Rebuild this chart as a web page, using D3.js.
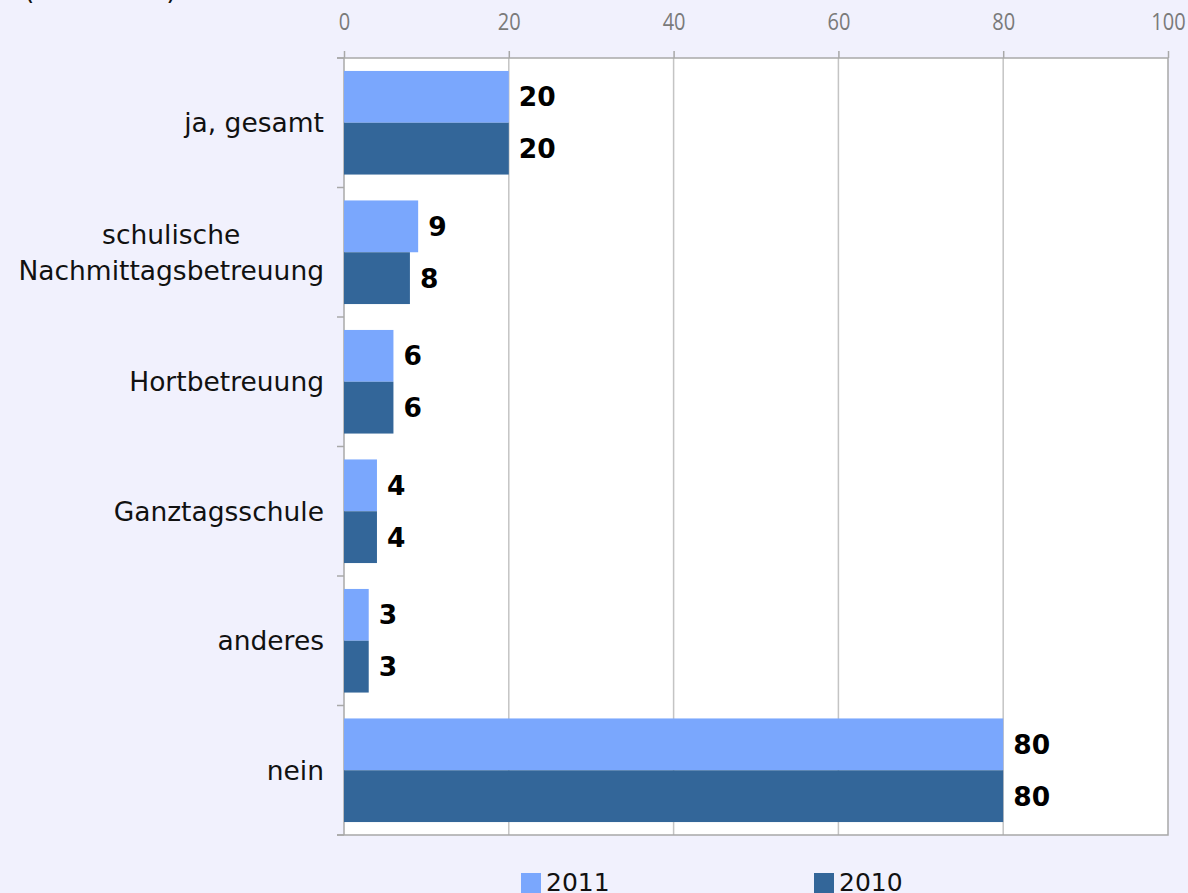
<!DOCTYPE html>
<html lang="de">
  <head>
    <meta charset="UTF-8"/>
    <title>Nachmittagsbetreuung</title>
    <script src="https://d3js.org/d3.v7.min.js"></script>
    <style>
        body {
          margin: 0;
          background: #f1f1fd;
        }
        .cat {
          font: 26.5px "DejaVu Sans", Verdana, sans-serif;
          fill: #111;
        }
        .val {
          font: bold 26.5px "DejaVu Sans", Verdana, sans-serif;
          fill: #000;
        }
        .tick-label {
          font: 23px "Open Sans", sans-serif;
          fill: #7a7a7a;
        }
        .legend {
          font: 25px "DejaVu Sans", Verdana, sans-serif;
          fill: #111;
        }
    </style>
  </head>
  <body>
    <script>
        const categories = [
          ["ja, gesamt"],
          ["schulische", "Nachmittagsbetreuung"],
          ["Hortbetreuung"],
          ["Ganztagsschule"],
          ["anderes"],
          ["nein"]
        ]
        const years = ["2011", "2010"]
        const values2011 = [20, 9, 6, 4, 3, 80]
        const values2010 = [20, 8, 6, 4, 3, 80]
        const xTicks = [0, 20, 40, 60, 80, 100]
        const colors = {"2011": "#7aa7fd", "2010": "#336699"}

        const width = 1188, height = 893
        const plot = {left: 344, right: 1168, top: 58, bottom: 835}

        const rows = categories.map((c, i) => ({
          key: c.join(" "),
          lines: c,
          "2011": values2011[i],
          "2010": values2010[i]
        }))

        const svg = d3.select("body").append("svg")
            .attr("width", width)
            .attr("height", height)

        // heading, cut off by the top edge
        svg.append("text")
            .attr("class", "cat")
            .attr("x", 24)
            .attr("y", -1)
            .text("(in Prozent)")

        const x = d3.scaleLinear()
            .domain([0, 100])
            .range([plot.left, plot.right])

        const y0 = d3.scaleBand()
            .domain(rows.map(d => d.key))
            .range([plot.top, plot.bottom])
            .paddingInner(0.2)
            .paddingOuter(0.1)

        const y1 = d3.scaleBand()
            .domain(years)
            .range([0, y0.bandwidth()])

        // plot area
        svg.append("rect")
            .attr("x", plot.left)
            .attr("y", plot.top)
            .attr("width", plot.right - plot.left)
            .attr("height", plot.bottom - plot.top)
            .attr("fill", "#fff")

        // vertical grid lines
        svg.append("g")
          .selectAll("line")
          .data(xTicks.slice(1, -1))
          .join("line")
            .attr("x1", d => x(d))
            .attr("x2", d => x(d))
            .attr("y1", plot.top)
            .attr("y2", plot.bottom)
            .attr("stroke", "#c4c4c4")
            .attr("stroke-width", 1.5)

        // right and bottom frame
        svg.append("path")
            .attr("d", `M${plot.right},${plot.top}V${plot.bottom}H${plot.left - 7}`)
            .attr("fill", "none")
            .attr("stroke", "#a8a8a8")
            .attr("stroke-width", 1.5)

        // top axis
        const xAxis = d3.axisTop(x)
            .tickValues(xTicks)
            .tickSize(7)
            .tickSizeOuter(0)
            .tickPadding(21)

        const gx = svg.append("g")
            .attr("transform", `translate(0, ${plot.top})`)
            .call(xAxis)
        gx.select(".domain")
            .attr("d", `M${plot.left - 7},0H${plot.right}`)
            .attr("stroke", "#a8a8a8")
            .attr("stroke-width", 1.5)
        gx.selectAll(".tick line").attr("stroke", "#a8a8a8").attr("stroke-width", 1.5)
        gx.selectAll(".tick text")
            .attr("class", "tick-label")
            .attr("fill", null)
            .attr("transform", "scale(0.87, 1)")

        // left axis line with ticks between categories
        const boundaries = d3.range(rows.length + 1)
            .map(i => plot.top + i * (plot.bottom - plot.top) / rows.length)
        svg.append("line")
            .attr("x1", plot.left).attr("x2", plot.left)
            .attr("y1", plot.top).attr("y2", plot.bottom)
            .attr("stroke", "#a8a8a8")
            .attr("stroke-width", 1.5)
        svg.append("g")
          .selectAll("line")
          .data(boundaries)
          .join("line")
            .attr("x1", plot.left - 7)
            .attr("x2", plot.left)
            .attr("y1", d => d)
            .attr("y2", d => d)
            .attr("stroke", "#a8a8a8")
            .attr("stroke-width", 1.5)

        // bars
        const groups = svg.append("g")
          .selectAll("g")
          .data(rows)
          .join("g")
            .attr("transform", d => `translate(0, ${y0(d.key)})`)

        groups.selectAll("rect")
          .data(d => years.map(yr => ({year: yr, value: d[yr]})))
          .join("rect")
            .attr("x", x(0))
            .attr("y", d => y1(d.year))
            .attr("width", d => x(d.value) - x(0))
            .attr("height", y1.bandwidth())
            .attr("fill", d => colors[d.year])

        groups.selectAll("text.val")
          .data(d => years.map(yr => ({year: yr, value: d[yr]})))
          .join("text")
            .attr("class", "val")
            .attr("x", d => x(d.value) + 10)
            .attr("y", d => y1(d.year) + y1.bandwidth() / 2)
            .attr("dy", "0.36em")
            .text(d => d.value)

        // category labels
        const labelRight = 324, lineH = 36
        const labels = svg.append("g")
          .selectAll("text")
          .data(rows)
          .join("text")
            .attr("class", "cat")
            .attr("y", d => y0(d.key) + y0.bandwidth() / 2)

        labels.each(function(d) {
          const t = d3.select(this)
          const n = d.lines.length
          d.lines.forEach((ln, i) => {
            t.append("tspan")
                .attr("dy", i === 0 ? `${0.36 * 26.5 - (n - 1) * lineH / 2}px` : `${lineH}px`)
                .text(ln)
          })
          // lines centred on each other, longest line ends at labelRight
          const spans = t.selectAll("tspan").nodes()
          const maxW = d3.max(spans, s => s.getComputedTextLength())
          spans.forEach(s => {
            d3.select(s)
                .attr("x", labelRight - maxW / 2)
                .attr("text-anchor", "middle")
          })
        })

        // legend
        const legend = svg.append("g")
          .selectAll("g")
          .data(years)
          .join("g")
            .attr("transform", (d, i) => `translate(${521 + i * 293}, 0)`)
        legend.append("rect")
            .attr("y", 873)
            .attr("width", 20)
            .attr("height", 20)
            .attr("fill", d => colors[d])
        legend.append("text")
            .attr("class", "legend")
            .attr("x", 25)
            .attr("y", 891)
            .text(d => d)
    </script>
  </body>
</html>
